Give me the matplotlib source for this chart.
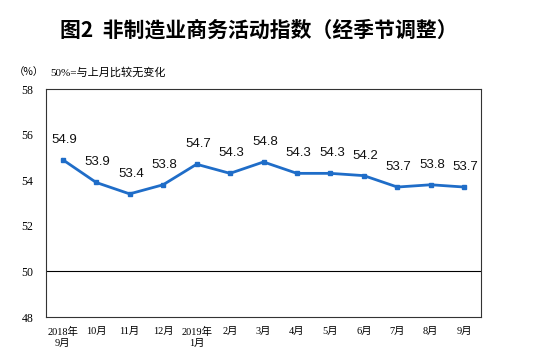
import matplotlib
matplotlib.use("Agg")
import matplotlib.pyplot as plt

plt.rcParams['font.family'] = ['Liberation Serif', 'Noto Sans CJK SC', 'DejaVu Sans']

months = ["2018年\n9月", "10月", "11月", "12月", "2019年\n1月", "2月", "3月", "4月", "5月", "6月", "7月", "8月", "9月"]
values = [54.9, 53.9, 53.4, 53.8, 54.7, 54.3, 54.8, 54.3, 54.3, 54.2, 53.7, 53.8, 53.7]
yticks = [48, 50, 52, 54, 56, 58]

fig = plt.figure(figsize=(5.54, 3.61), dpi=100)
ax = fig.add_axes([46/554, 1-317/361, 435/554, 228/361])

x = list(range(len(values)))
ax.plot(x, values, color='#1f6dc8', lw=2, marker='s', ms=3.5, zorder=3)
for xi, v in zip(x, values):
    ax.annotate(f"{v:.1f}", (xi, v), xytext=(1, 14.5), textcoords='offset points',
                ha='center', va='center', fontsize=9.5,
                family=['Liberation Sans', 'DejaVu Sans'], color='#111111')

ax.axhline(50, color='#000000', lw=0.8, zorder=2)
ax.set_xlim(-0.5, len(values) - 0.5)
ax.set_ylim(48, 58)
ax.set_yticks(yticks)
ax.set_yticklabels([str(t) for t in yticks], fontsize=8.5)
ax.set_xticks(x)
ax.set_xticklabels(months, fontsize=7.5, linespacing=1.25)
ax.tick_params(axis='both', length=0)
ax.tick_params(axis='y', pad=9)
ax.tick_params(axis='x', pad=7)
for s in ax.spines.values():
    s.set_color('#333333')
    s.set_linewidth(0.8)

fig.text(259/554, 1-30/361, "图2  非制造业商务活动指数（经季节调整）", ha='center', va='center',
         fontsize=15, fontweight='bold', family=['Noto Sans CJK SC'])
fig.text(14/554, 1-72/361, "（%）", ha='left', va='center', fontsize=7.5,
         family=['Noto Sans CJK SC'])
fig.text(50/554, 1-72/361, "50%=与上月比较无变化", ha='left', va='center', fontsize=8)

fig.savefig("out.png", dpi=100)
